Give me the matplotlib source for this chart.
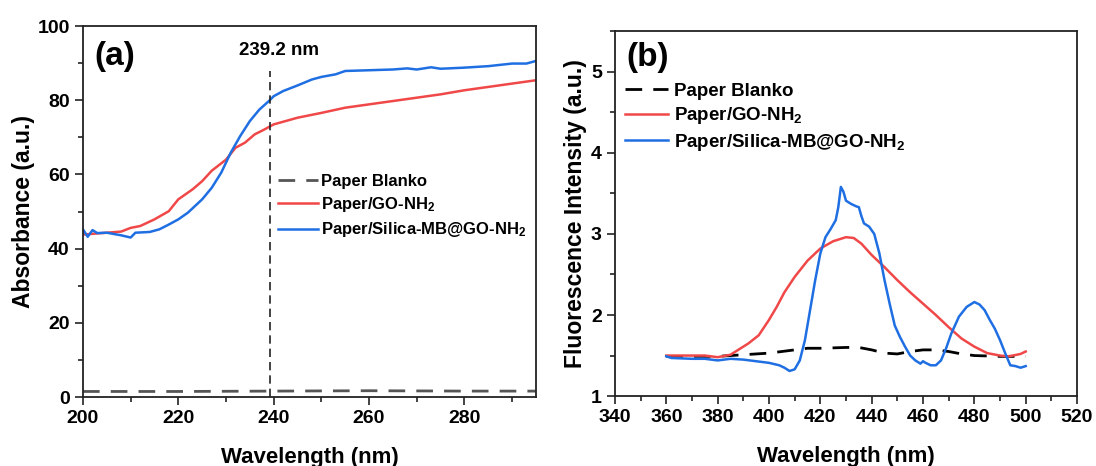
import matplotlib
matplotlib.use("Agg")
import matplotlib.pyplot as plt
from matplotlib.ticker import MultipleLocator

plt.rcParams["font.family"] = ["Liberation Sans", "DejaVu Sans"]
plt.rcParams["font.weight"] = "bold"
plt.rcParams["mathtext.fontset"] = "custom"
plt.rcParams["mathtext.bf"] = "Liberation Sans:bold"
plt.rcParams["mathtext.rm"] = "Liberation Sans:bold"
plt.rcParams["mathtext.default"] = "bf"

RED = "#f04848"
BLUE = "#1f6fe3"

# ---------------------------------------------------------------------------
# (a) UV-Vis absorbance
# ---------------------------------------------------------------------------
abs_blank_x = [200, 220, 240, 260, 280, 295]
abs_blank_y = [1.5, 1.5, 1.6, 1.7, 1.6, 1.6]

abs_go_x = [200, 205, 208, 210, 212, 215, 218, 220, 223, 225, 227, 230, 232,
            234, 236, 238, 240, 245, 250, 255, 260, 265, 270, 275, 280, 285,
            290, 295]
abs_go_y = [43.8, 44.3, 44.6, 45.6, 46.1, 47.9, 50.1, 53.3, 56.0, 58.2, 61.0,
            64.0, 67.2, 68.6, 70.8, 72.1, 73.5, 75.3, 76.6, 78.0, 78.9, 79.8,
            80.7, 81.6, 82.7, 83.6, 84.5, 85.4]

abs_mb_x = [200, 201, 202, 203, 205, 208, 210, 211, 214, 216, 218, 220, 222,
            225, 227, 229, 231, 233, 235, 237, 239, 240, 242, 245, 248, 250,
            253, 255, 260, 265, 268, 270, 273, 275, 280, 285, 290, 293, 295]
abs_mb_y = [45.2, 43.2, 45.0, 44.2, 44.3, 43.6, 43.0, 44.3, 44.5, 45.2, 46.5,
            47.9, 49.7, 53.3, 56.4, 60.5, 65.9, 70.4, 74.4, 77.5, 79.8, 81.1,
            82.5, 84.0, 85.6, 86.3, 87.0, 87.9, 88.1, 88.3, 88.6, 88.3, 88.9,
            88.5, 88.8, 89.2, 89.9, 89.9, 90.6]

peak_nm = 239.2
peak_top = 88

# ---------------------------------------------------------------------------
# (b) Fluorescence
# ---------------------------------------------------------------------------
fl_blank_x = [360, 370, 380, 390, 400, 405, 410, 415, 420, 430, 435, 440, 445,
              450, 455, 460, 465, 470, 475, 480, 490, 500]
fl_blank_y = [1.49, 1.49, 1.49, 1.51, 1.53, 1.55, 1.57, 1.59, 1.59, 1.60, 1.60,
              1.57, 1.53, 1.52, 1.55, 1.57, 1.57, 1.55, 1.52, 1.50, 1.49, 1.49]

fl_go_x = [360, 370, 375, 380, 385, 388, 392, 396, 400, 403, 406, 410, 415,
           420, 425, 430, 433, 436, 440, 445, 450, 455, 460, 465, 470, 475,
           480, 485, 490, 493, 495, 498, 500]
fl_go_y = [1.50, 1.50, 1.50, 1.48, 1.51, 1.57, 1.65, 1.75, 1.94, 2.10, 2.28,
           2.47, 2.67, 2.82, 2.91, 2.96, 2.95, 2.88, 2.74, 2.59, 2.43, 2.28,
           2.14, 2.00, 1.85, 1.71, 1.61, 1.53, 1.50, 1.49, 1.50, 1.52, 1.55]

fl_mb_x = [360, 362, 370, 375, 380, 385, 390, 395, 400, 404, 406, 408, 410,
           412, 414, 416, 418, 420, 422, 424, 426, 427, 428, 429, 430, 432,
           434, 435, 436, 437, 439, 441, 443, 445, 447, 449, 451, 453, 455,
           457, 459, 460, 461, 463, 465, 467, 469, 471, 474, 477, 480, 482,
           484, 486, 488, 490, 492, 494, 496, 498, 500]
fl_mb_y = [1.49, 1.47, 1.46, 1.46, 1.44, 1.46, 1.45, 1.43, 1.41, 1.38, 1.35,
           1.31, 1.33, 1.44, 1.69, 2.06, 2.43, 2.76, 2.96, 3.06, 3.17, 3.33,
           3.58, 3.52, 3.41, 3.37, 3.34, 3.33, 3.22, 3.13, 3.09, 3.00, 2.76,
           2.43, 2.14, 1.87, 1.73, 1.61, 1.50, 1.44, 1.40, 1.43, 1.41, 1.38,
           1.38, 1.44, 1.59, 1.77, 1.98, 2.10, 2.16, 2.13, 2.06, 1.94, 1.83,
           1.69, 1.53, 1.38, 1.37, 1.35, 1.37]

LABELS = ["Paper Blanko", "Paper/GO-NH$_2$", "Paper/Silica-MB@GO-NH$_2$"]


def style_axes(ax):
    for sp in ax.spines.values():
        sp.set_linewidth(1.3)
        sp.set_color("#222222")
    ax.tick_params(which="both", direction="out", top=False, right=False,
                   labelsize=14, width=1.2, color="#222222")
    ax.tick_params(which="major", length=6)
    ax.tick_params(which="minor", length=3.5)
    for lab in ax.get_xticklabels() + ax.get_yticklabels():
        lab.set_fontweight("bold")


fig = plt.figure(figsize=(10.96, 4.66), dpi=100)
ax1 = fig.add_axes([0.0757, 0.148, 0.4133, 0.796])
ax2 = fig.add_axes([0.5611, 0.150, 0.4216, 0.783])

# panel (a)
ax1.plot(abs_blank_x, abs_blank_y, color="#555555", lw=2, dashes=(6, 4),
         label=LABELS[0])
ax1.plot(abs_go_x, abs_go_y, color=RED, lw=1.8, label=LABELS[1])
ax1.plot(abs_mb_x, abs_mb_y, color=BLUE, lw=1.8, label=LABELS[2])
ax1.plot([peak_nm, peak_nm], [0, peak_top], color="#222222", lw=1.2,
         dashes=(5, 3))
ax1.text(peak_nm + 2, peak_top + 3, "239.2 nm", ha="center", va="bottom",
         fontsize=13.5, fontweight="bold")
ax1.set_xlim(200, 295)
ax1.set_ylim(0, 100)
ax1.xaxis.set_major_locator(MultipleLocator(20))
ax1.xaxis.set_minor_locator(MultipleLocator(10))
ax1.yaxis.set_major_locator(MultipleLocator(20))
ax1.yaxis.set_minor_locator(MultipleLocator(10))
ax1.set_xlabel("Wavelength (nm)", fontsize=16, fontweight="bold", labelpad=14)
ax1.set_ylabel("Absorbance (a.u.)", fontsize=16.5, fontweight="bold",
               labelpad=2)
ax1.text(0.025, 0.96, "(a)", transform=ax1.transAxes, fontsize=24,
         fontweight="bold", va="top")
style_axes(ax1)
ax1.legend(loc="upper left", bbox_to_anchor=(0.415, 0.62), frameon=False,
           fontsize=12, handlelength=2.4, handletextpad=0.2,
           labelspacing=0.38, borderaxespad=0)

# panel (b)
ax2.plot(fl_blank_x, fl_blank_y, color="black", lw=2, dashes=(6, 4),
         label=LABELS[0])
ax2.plot(fl_go_x, fl_go_y, color=RED, lw=1.8, label=LABELS[1])
ax2.plot(fl_mb_x, fl_mb_y, color=BLUE, lw=1.8, label=LABELS[2])
ax2.set_xlim(340, 520)
ax2.set_ylim(1, 5.5)
ax2.xaxis.set_major_locator(MultipleLocator(20))
ax2.xaxis.set_minor_locator(MultipleLocator(10))
ax2.yaxis.set_major_locator(MultipleLocator(1))
ax2.yaxis.set_minor_locator(MultipleLocator(0.5))
ax2.set_xlabel("Wavelength (nm)", fontsize=16, fontweight="bold", labelpad=14)
ax2.set_ylabel("Fluorescence Intensity (a.u.)", fontsize=16.5,
               fontweight="bold", labelpad=3)
ax2.text(0.025, 0.97, "(b)", transform=ax2.transAxes, fontsize=24,
         fontweight="bold", va="top")
style_axes(ax2)
ax2.legend(loc="upper left", bbox_to_anchor=(0.005, 0.88), frameon=False,
           fontsize=13.5, handlelength=2.3, handletextpad=0.3,
           labelspacing=0.3, borderaxespad=0)

fig.savefig("out.png", dpi=100)
